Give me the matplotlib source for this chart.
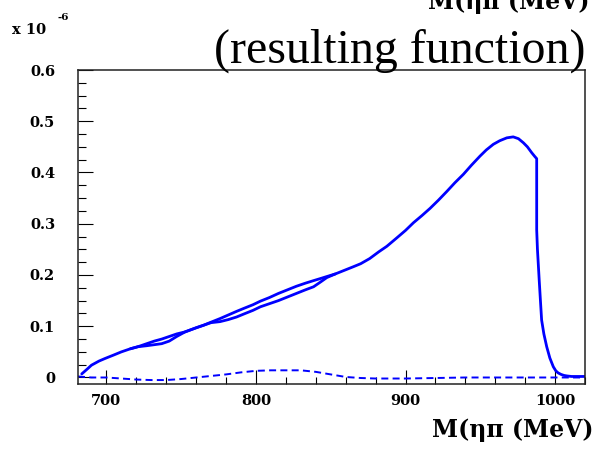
import matplotlib
matplotlib.use("Agg")
import matplotlib.pyplot as plt
from matplotlib.ticker import MultipleLocator, FixedLocator

# ---- data (y in units of 1e-6) ----
mass_upper = [683.5, 687, 690, 695, 699, 705, 710, 716, 721, 727, 732, 737, 742, 747,
              752.6, 760, 765, 770, 776, 781.5, 787, 792, 798, 803, 809, 815, 821,
              827, 833, 838.5, 843, 847.4, 853, 859, 865, 870, 876, 882, 887.5, 894,
              900, 905.3, 911, 916.4, 922, 927.6, 933, 938.7, 944, 949.8, 954, 958.7,
              963, 967.7, 972, 975.5, 978.8, 981.5, 984.4, 986.5, 987.7, 987.7, 988.2,
              989.4, 990.2, 991, 992.5, 994.4, 996.5, 998.8, 1000.5, 1002, 1004, 1006,
              1008, 1011, 1020]
func_upper = [0.007, 0.016, 0.024, 0.032, 0.037, 0.044, 0.050, 0.056, 0.060, 0.066,
              0.071, 0.075, 0.080, 0.085, 0.089, 0.097, 0.102, 0.108, 0.115, 0.122,
              0.129, 0.135, 0.142, 0.149, 0.156, 0.164, 0.171, 0.178, 0.184, 0.189,
              0.193, 0.197, 0.202, 0.209, 0.216, 0.222, 0.232, 0.245, 0.256, 0.272,
              0.287, 0.302, 0.316, 0.330, 0.346, 0.363, 0.380, 0.3965, 0.414, 0.432,
              0.444, 0.455, 0.462, 0.4676, 0.4695, 0.466, 0.458, 0.450, 0.4385, 0.431,
              0.427, 0.288, 0.250, 0.189, 0.150, 0.112, 0.085, 0.060, 0.038, 0.021,
              0.013, 0.009, 0.006, 0.004, 0.003, 0.002, 0.002]

mass_lower = [716, 721, 727, 732, 737, 742, 747, 752.6, 760, 765, 770, 776, 781.5,
              787, 792, 798, 803, 809, 815, 821, 827, 833, 838.5, 843, 847.4, 853]
func_lower = [0.056, 0.060, 0.062, 0.064, 0.066, 0.071, 0.080, 0.089, 0.097, 0.102,
              0.107, 0.109, 0.113, 0.118, 0.124, 0.131, 0.138, 0.144, 0.150, 0.157,
              0.164, 0.171, 0.177, 0.186, 0.195, 0.202]

mass_dash = [681, 690, 700, 710, 720, 730, 740, 750, 760, 770, 780, 790, 800, 810,
             820, 830, 840, 850, 860, 870, 880, 900, 920, 940, 960, 980, 1000, 1020]
func_dash = [0.002, 0.0, 0.0, -0.002, -0.004, -0.005, -0.005, -0.003, 0.0, 0.003,
             0.006, 0.010, 0.013, 0.014, 0.014, 0.014, 0.011, 0.006, 0.001, -0.001,
             -0.002, -0.002, -0.001, 0.0, 0.0, 0.0, 0.0, 0.0]

xticks = [700, 800, 900, 1000]
yticks = [0, 0.1, 0.2, 0.3, 0.4, 0.5, 0.6]
ytick_labels = ["0", "0.1", "0.2", "0.3", "0.4", "0.5", "0.6"]

W, H = 594, 453
fig = plt.figure(figsize=(W / 100, H / 100), dpi=100)
ax = fig.add_axes([78 / W, 1 - 384 / H, 507 / W, 314 / H])

blue = "#0000ff"
ax.plot(mass_upper, func_upper, color=blue, lw=2.0, solid_joinstyle="round",
        solid_capstyle="round")
ax.plot(mass_lower, func_lower, color=blue, lw=2.0, solid_joinstyle="round",
        solid_capstyle="round")
ax.plot(mass_dash, func_dash, color=blue, lw=1.4, linestyle=(0, (3.6, 2.2)))

ax.set_xlim(681, 1020)
ax.set_ylim(-0.0127, 0.6)

ax.xaxis.set_major_locator(FixedLocator(xticks))
ax.xaxis.set_minor_locator(MultipleLocator(20))
ax.yaxis.set_major_locator(FixedLocator(yticks))
ax.yaxis.set_minor_locator(MultipleLocator(0.025))
ax.set_yticklabels(ytick_labels)

ax.tick_params(which="both", direction="in", top=False, right=False, width=0.8,
               color="black")
ax.tick_params(axis="x", which="major", length=10, pad=7)
ax.tick_params(axis="x", which="minor", length=5)
ax.tick_params(axis="y", which="major", length=11, pad=16.5)
ax.tick_params(axis="y", which="minor", length=5.5)

for lab in ax.get_xticklabels() + ax.get_yticklabels():
    lab.set_family("DejaVu Serif")
    lab.set_fontweight("bold")
    lab.set_fontsize(10.5)

for s in ax.spines.values():
    s.set_linewidth(1.1)
    s.set_color("#222222")

# texts
fig.text(12 / W, 1 - 34 / H, "x 10", family="DejaVu Serif", fontweight="bold",
         fontsize=10.5, ha="left", va="baseline")
fig.text(58 / W, 1 - 20 / H, "-6", family="DejaVu Serif", fontweight="bold",
         fontsize=7.5, ha="left", va="baseline")
fig.text(585 / W, 1 - 63 / H, "(resulting function)", family="Liberation Serif",
         fontsize=34.5, ha="right", va="baseline")
fig.text(590 / W, 1 - 9 / H, "M(ηπ (MeV)", family="DejaVu Serif",
         fontweight="bold", fontsize=17, ha="right", va="baseline")
fig.text(593 / W, 1 - 437 / H, "M(ηπ (MeV)", family="DejaVu Serif",
         fontweight="bold", fontsize=17, ha="right", va="baseline")

fig.savefig("out.png", dpi=100)
